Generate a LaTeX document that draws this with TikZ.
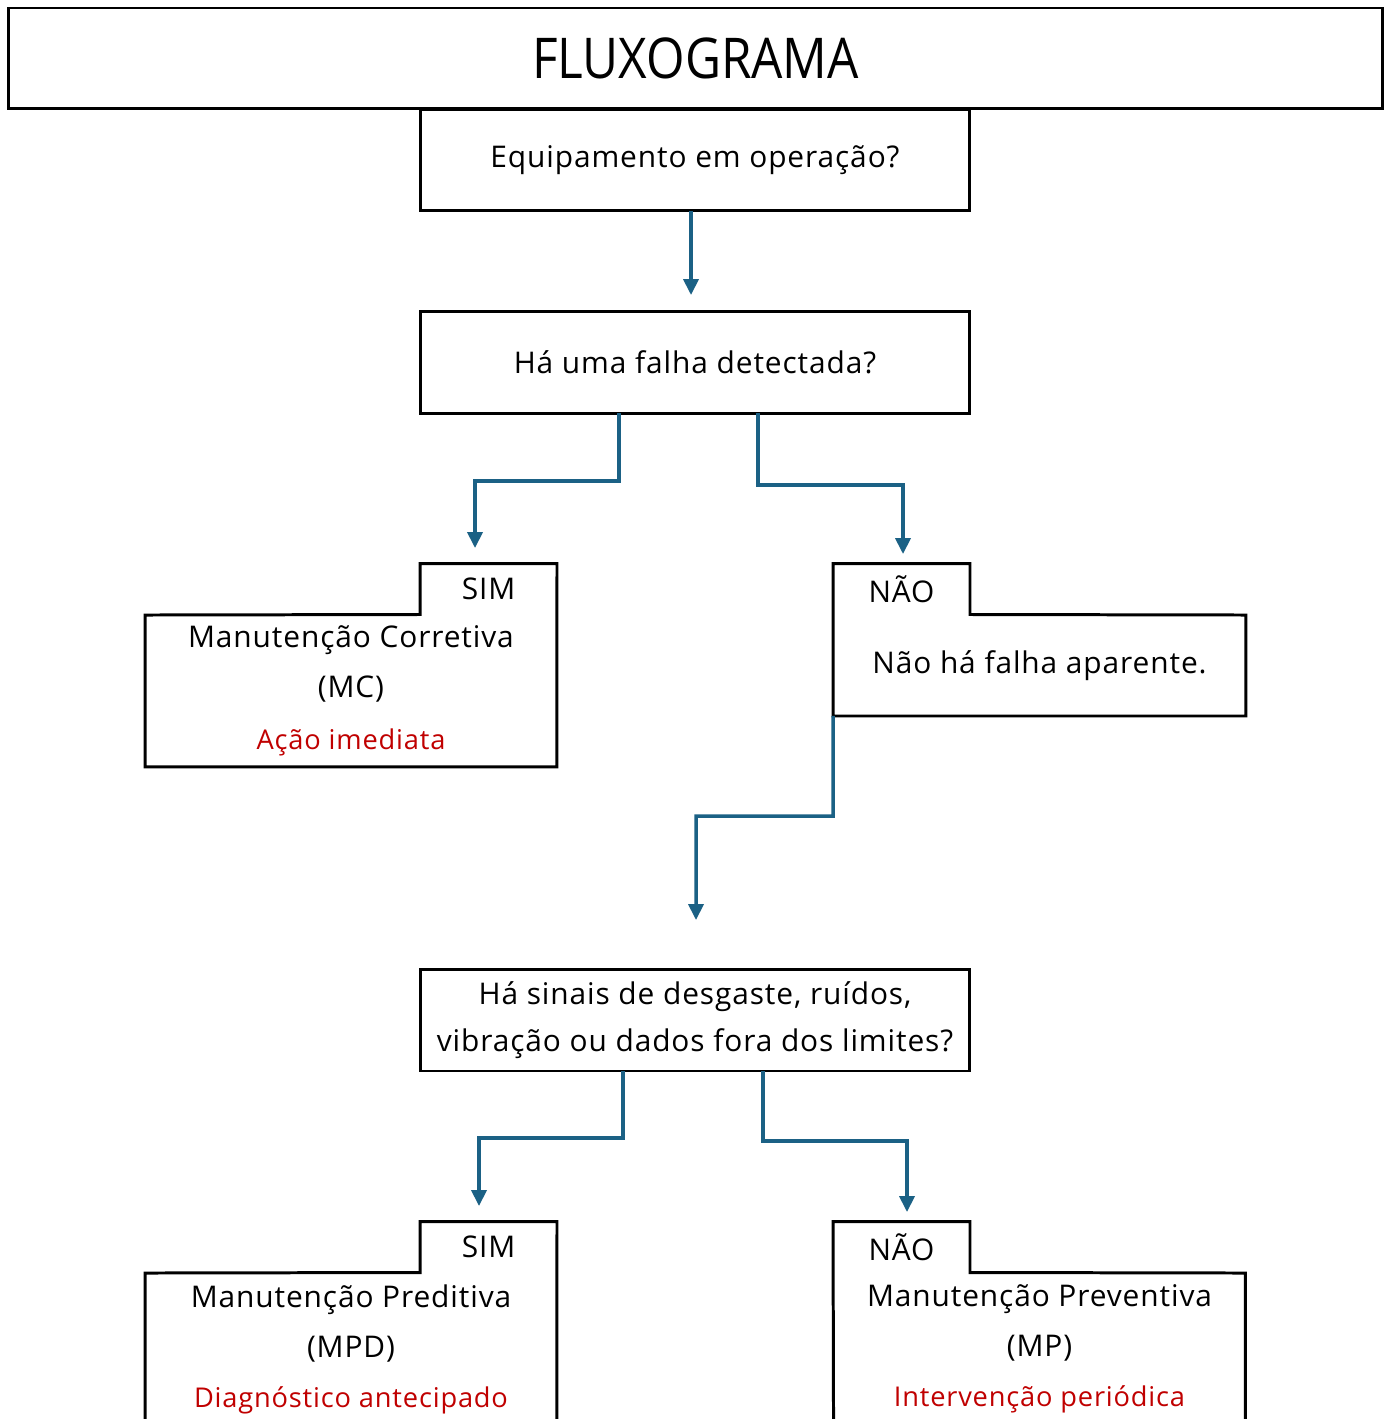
\documentclass[tikz,border=0pt]{standalone}
\usepackage{fontspec}
\setmainfont{Open Sans}[LetterSpace=3]
\newfontfamily\titlefont{Open Sans}[FakeStretch=0.88]
\usetikzlibrary{arrows.meta,positioning}
\definecolor{flowblue}{HTML}{1B6185}
\definecolor{notered}{HTML}{C00000}
\newcommand{\notetext}[1]{{\color{notered}\fontsize{15.5}{28.5}\selectfont #1}}

\begin{document}
\begin{tikzpicture}[x=0.02cm, y=-0.02cm]
        \tikzset{box/.style={rectangle, draw, line width=1.7pt, align=center, minimum width=11cm, minimum height=2.04cm, inner sep=0pt, outer sep=0pt, font=\fontsize{17}{27}\selectfont}, tabbox/.style={rectangle, minimum width=2.74cm, minimum height=1.02cm, inner sep=0pt, outer sep=0pt, font=\fontsize{17}{28}\selectfont}, outcome/.style={rectangle, align=center, minimum width=8.24cm, minimum height=3.04cm, inner sep=0pt, outer sep=0pt, font=\fontsize{17}{28.5}\selectfont}, outline/.style={draw, line width=1.7pt}, flow/.style={draw=flowblue, line width=2pt, -{Triangle[width=8.5pt, length=9pt]}}}
        \path[fill=white, use as bounding box] (0,0) rectangle (1390,1419);
        \node[box, minimum width=27.5cm, minimum height=2.02cm, font=\titlefont\fontsize{32}{36}\selectfont] (title) at (695.5,58.5) {FLUXOGRAMA};
        \node[box] (oper) at (695,160) {Equipamento em operação?};
        \node[box] (falha) at (695,362.5) {Há uma falha detectada?};
        \node[tabbox] (simA) at (488.5,589) {SIM};
        \node[outcome] (mc) at (351,691) {Manutenção Corretiva\\(MC)\\[1pt]\notetext{Ação imediata}};
        \node[tabbox] (naoA) at (901.5,589) {NÃO};
        \node[outcome, minimum width=8.26cm, minimum height=2.02cm] (ok) at (1039.5,665.5) {Não há falha aparente.};
        \node[box] (sinais) at (695,1020) {Há sinais de desgaste, ruídos,\\vibração ou dados fora dos limites?};
        \node[tabbox] (simB) at (488.5,1247) {SIM};
        \node[outcome] (mpd) at (351,1349) {Manutenção Preditiva\\(MPD)\\\notetext{Diagnóstico antecipado}};
        \node[tabbox] (naoB) at (901.5,1247) {NÃO};
        \node[outcome] (mp) at (1039.5,1349) {Manutenção Preventiva\\(MP)\\\notetext{Intervenção periódica}};
        % outlines of the answer boxes
        \draw[outline] (mc.north west) -- (simA.south west) -- (simA.north west) -- (simA.north east) -- (mc.south east) -- (mc.south west) -- cycle;
        \draw[outline] (naoA.north west) -- (naoA.north east) -- (naoA.south east) -- (ok.north east) -- (ok.south east) -- (ok.south west) -- cycle;
        \draw[outline] (mpd.north west) -- (simB.south west) -- (simB.north west) -- (simB.north east) -- (mpd.south east) -- (mpd.south west) -- cycle;
        \draw[outline] (naoB.north west) -- (naoB.north east) -- (naoB.south east) -- (mp.north east) -- (mp.south east) -- (mp.south west) -- cycle;
        % arrow ends
        \coordinate (tipO) at (691,295);
        \coordinate (tipA) at (475,548);
        \coordinate (tipB) at (903,554);
        \coordinate (tipC) at (696,920);
        \coordinate (tipD) at (479,1206);
        \coordinate (tipE) at (907,1212);
        \draw[flow] (oper.south -| tipO) -- (tipO);
        \draw[flow] (falha.south -| 619,0) -- (619,481) -| (tipA);
        \draw[flow] (falha.south -| 758,0) -- (758,485) -| (tipB);
        \draw[flow] (ok.south west) -- (833,816) -| (tipC);
        \draw[flow] (sinais.south -| 623,0) -- (623,1138) -| (tipD);
        \draw[flow] (sinais.south -| 763,0) -- (763,1141) -| (tipE);
    \end{tikzpicture}
\end{document}
